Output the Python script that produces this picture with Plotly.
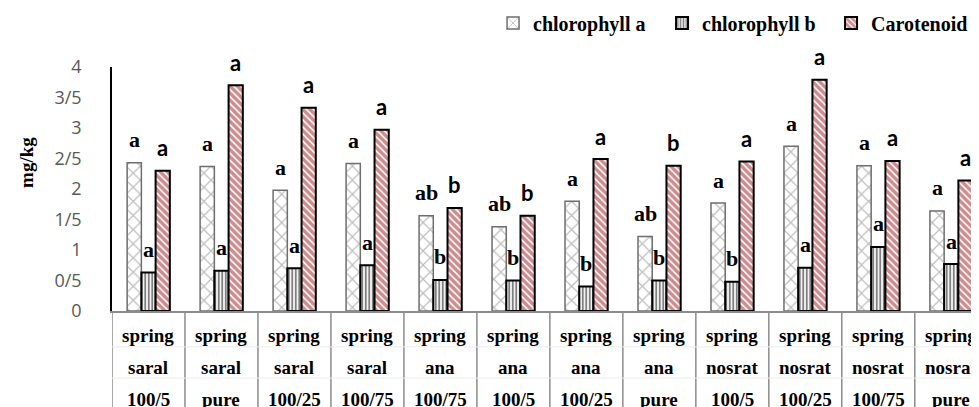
import numpy as np
import plotly.graph_objects as go

# ── Data ──────────────────────────────────────────────────────────────────
row1 = ["spring"] * 12
row2 = ["saral", "saral", "saral", "saral", "ana", "ana", "ana", "ana",
        "nosrat", "nosrat", "nosrat", "nosrat"]
row3 = ["100/5", "pure", "100/25", "100/75", "100/75", "100/5", "100/25", "pure",
        "100/5", "100/25", "100/75", "pure"]

chl_a = [2.43, 2.37, 1.98, 2.42, 1.56, 1.38, 1.80, 1.22, 1.77, 2.70, 2.38, 1.64]
chl_b = [0.63, 0.66, 0.70, 0.75, 0.51, 0.50, 0.40, 0.50, 0.48, 0.71, 1.05, 0.77]
carot = [2.30, 3.70, 3.33, 2.97, 1.69, 1.56, 2.49, 2.38, 2.45, 3.79, 2.46, 2.14]

let_a = ["a", "a", "a", "a", "ab", "ab", "a", "ab", "a", "a", "a", "a"]
let_b = ["a", "a", "a", "a", "b", "b", "b", "b", "b", "a", "a", "a"]
let_c = ["a", "a", "a", "a", "b", "b", "a", "b", "a", "a", "a", "a"]

y_vals = [0, 0.5, 1, 1.5, 2, 2.5, 3, 3.5, 4]
y_text = ["0", "0/5", "1", "1/5", "2", "2/5", "3", "3/5", "4"]

SERIF = "Liberation Serif, Times New Roman, serif"
SANS = "Lato, Open Sans, sans-serif"

x = np.arange(len(row1))
W = 0.195
OFFS = [-1.5 * W, -0.5 * W, 0.5 * W]

series = [
    dict(name="chlorophyll a", y=chl_a, letters=let_a, lfont=SERIF,
         line=dict(color="#6e6e6e", width=1.5),
         pattern=dict(shape="x", fgcolor="#7a7a7a", bgcolor="white", size=10, solidity=0.22)),
    dict(name="chlorophyll b", y=chl_b, letters=let_b, lfont=SERIF,
         line=dict(color="black", width=2),
         pattern=dict(shape="|", fgcolor="black", bgcolor="white", size=3.5, solidity=0.55)),
    dict(name="Carotenoid", y=carot, letters=let_c, lfont=SANS,
         line=dict(color="black", width=2),
         pattern=dict(shape="\\", fgcolor="#9b1c20", bgcolor="white", size=5, solidity=0.7)),
]

fig = go.Figure()
annotations = []
for s, off in zip(series, OFFS):
    fig.add_trace(go.Bar(
        x=x, y=s["y"], name=f"<b>{s['name']}</b>", width=W, offset=off,
        marker=dict(color="white", line=s["line"], pattern=s["pattern"]),
    ))
    for xi, yi, t in zip(x, s["y"], s["letters"]):
        annotations.append(dict(
            x=xi + off + W / 2, y=yi, text=f"<b>{t}</b>", showarrow=False,
            yshift=23, yanchor="middle",
            font=dict(family=s["lfont"], size=22, color="black"),
        ))

# category table labels below the axis
for xi, a, b, c in zip(x, row1, row2, row3):
    for txt, shift in [(a, -24), (b, -56), (c, -88)]:
        annotations.append(dict(
            x=xi, y=0, text=f"<b>{txt}</b>", showarrow=False,
            yshift=shift, yanchor="middle",
            font=dict(family=SERIF, size=19, color="black"),
        ))

annotations.append(dict(
    x=-0.098, xref="paper", xanchor="center", y=0.607, yref="paper", yanchor="middle",
    text="<b>mg/kg</b>", textangle=-90, showarrow=False,
    font=dict(family=SERIF, size=19, color="black"),
))

shapes = []
for b in np.arange(-0.5, 12, 1.0):
    shapes.append(dict(type="line", xref="x", yref="paper", x0=b, x1=b, y0=0, y1=-0.5,
                       line=dict(color="#8c8c8c", width=1.5)))
for yy in [-0.147, -0.275]:
    shapes.append(dict(type="line", xref="paper", yref="paper", x0=0, x1=1, y0=yy, y1=yy,
                       line=dict(color="#ececec", width=1)))

# page body keeps its default 8px margin, so the figure is 8px smaller
fig.update_layout(
    width=971, height=399,
    margin=dict(l=104, r=0, t=59, b=96, autoexpand=False),
    plot_bgcolor="white", paper_bgcolor="white",
    barmode="overlay",
    showlegend=True,
    legend=dict(orientation="h", xanchor="left", x=0.4395, y=1.18, yanchor="middle",
                font=dict(family=SERIF, size=20, color="black"),
                itemwidth=30, entrywidth=124, traceorder="normal",
                bgcolor="rgba(0,0,0,0)"),
    xaxis=dict(range=[-0.5, 11.38], showticklabels=False, showgrid=False, zeroline=False,
               showline=True, linecolor="#8c8c8c", linewidth=1.5, ticks=""),
    yaxis=dict(range=[0, 4], tickvals=y_vals, ticktext=y_text, showgrid=False,
               zeroline=False, showline=True, linecolor="black", linewidth=1.5,
               ticks="", ticklabelstandoff=25,
               tickfont=dict(family="Open Sans, sans-serif", size=18, color="#595959")),
    annotations=annotations,
    shapes=shapes,
)

fig.write_html("out.html")
